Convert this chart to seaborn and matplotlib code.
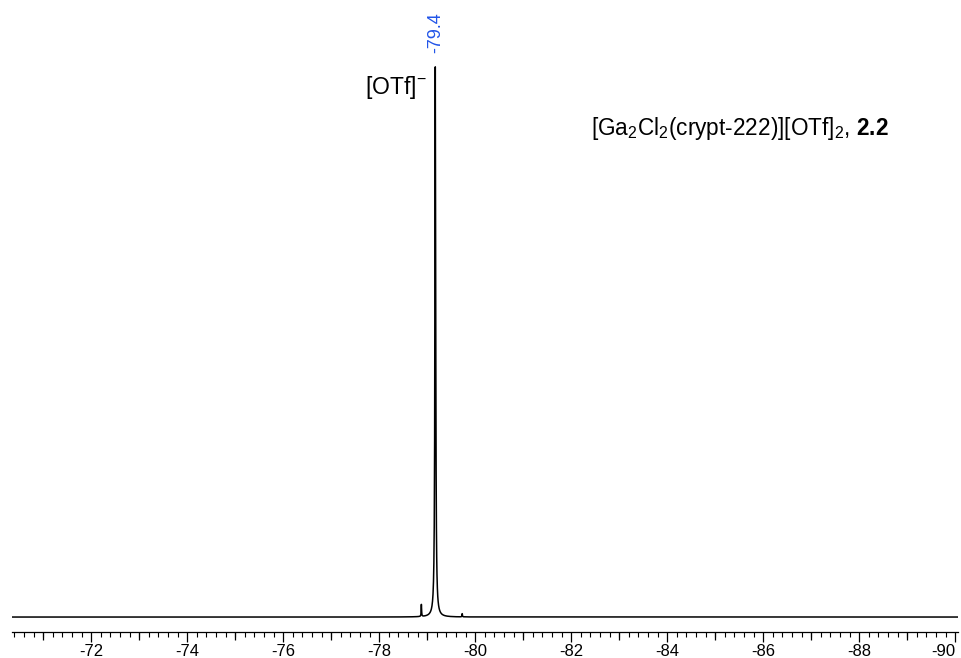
import numpy as np
import pandas as pd
import matplotlib
matplotlib.use("Agg")
import matplotlib.pyplot as plt
from matplotlib.ticker import MultipleLocator, FixedLocator, NullFormatter
import seaborn as sns

# peaks (ppm, relative height, FWHM in ppm)
peak_shifts = [-79.17, -78.88, -79.73]
peak_heights = [1.0, 0.022, 0.006]
peak_widths = [0.02, 0.01, 0.01]

peak_label_text = "-79.4"
anion_label = r"[OTf]$^{-}$"
compound_label = r"[Ga$_2$Cl$_2$(crypt-222)][OTf]$_2$, $\mathbf{2.2}$"

x_left, x_right = -70.35, -90.06

sns.set_theme(style="white")
plt.rcParams['font.family'] = ['Liberation Sans', 'DejaVu Sans']
plt.rcParams['mathtext.fontset'] = 'custom'
plt.rcParams['mathtext.rm'] = 'Liberation Sans'
plt.rcParams['mathtext.it'] = 'Liberation Sans'
plt.rcParams['mathtext.bf'] = 'Liberation Sans:bold'

# lorentzian line shape on a ppm grid
ppm = np.linspace(x_right, x_left, 10000)
intensity = np.zeros_like(ppm)
for pos, h, w in zip(peak_shifts, peak_heights, peak_widths):
    g = w / 2
    intensity += h * g**2 / ((ppm - pos)**2 + g**2)
df = pd.DataFrame({'ppm': ppm, 'intensity': intensity})

fig = plt.figure(figsize=(9.61, 6.58), dpi=100)
ax = fig.add_axes([12 / 961, 1 - 632 / 658, 946 / 961, 572 / 658])

sns.lineplot(data=df, x='ppm', y='intensity', ax=ax, color='black',
             linewidth=1.1, estimator=None, sort=False)

ax.set_xlim(x_left, x_right)
ax.set_ylim(-0.027, 1.005)
ax.set_xlabel('')
ax.set_ylabel('')
ax.set_yticks([])

for s in ['top', 'left', 'right']:
    ax.spines[s].set_visible(False)
ax.spines['bottom'].set_color('black')
ax.spines['bottom'].set_linewidth(0.9)

ax.xaxis.set_major_locator(MultipleLocator(2))
ax.xaxis.set_minor_locator(MultipleLocator(0.2))
ax.xaxis.set_major_formatter(plt.FuncFormatter(lambda v, p: f"{v:.0f}"))
ax.tick_params(axis='x', which='major', direction='out', length=7, width=0.9,
               labelsize=12, pad=2, bottom=True, colors='black')
ax.tick_params(axis='x', which='minor', direction='out', length=3.5, width=0.8,
               bottom=True, colors='black')

# medium ticks at odd ppm values
sec = ax.secondary_xaxis('bottom')
sec.spines['bottom'].set_visible(False)
sec.xaxis.set_major_locator(FixedLocator(np.arange(-89, -70, 2)))
sec.xaxis.set_major_formatter(NullFormatter())
sec.tick_params(axis='x', which='major', direction='out', length=5.5, width=0.9,
                colors='black')
sec.xaxis.set_minor_locator(FixedLocator([]))

# keep the last label inside the figure
fig.canvas.draw()
for lab in ax.get_xticklabels():
    if lab.get_text() in ('-90', '\u221290'):
        lab.set_horizontalalignment('right')

main = peak_shifts[0]
ax.annotate(peak_label_text, xy=(main, 1.0), xytext=(0, 7), textcoords='offset points',
            rotation=90, ha='center', va='bottom', color='#2255e8', fontsize=13)
ax.annotate(anion_label, xy=(main, 0.955), xytext=(-6, 0), textcoords='offset points',
            ha='right', va='center', fontsize=16.5, color='black')
ax.text(0.612, 0.88, compound_label, transform=ax.transAxes, ha='left', va='center',
        fontsize=16.3, color='black')

fig.savefig('out.png', dpi=100)
